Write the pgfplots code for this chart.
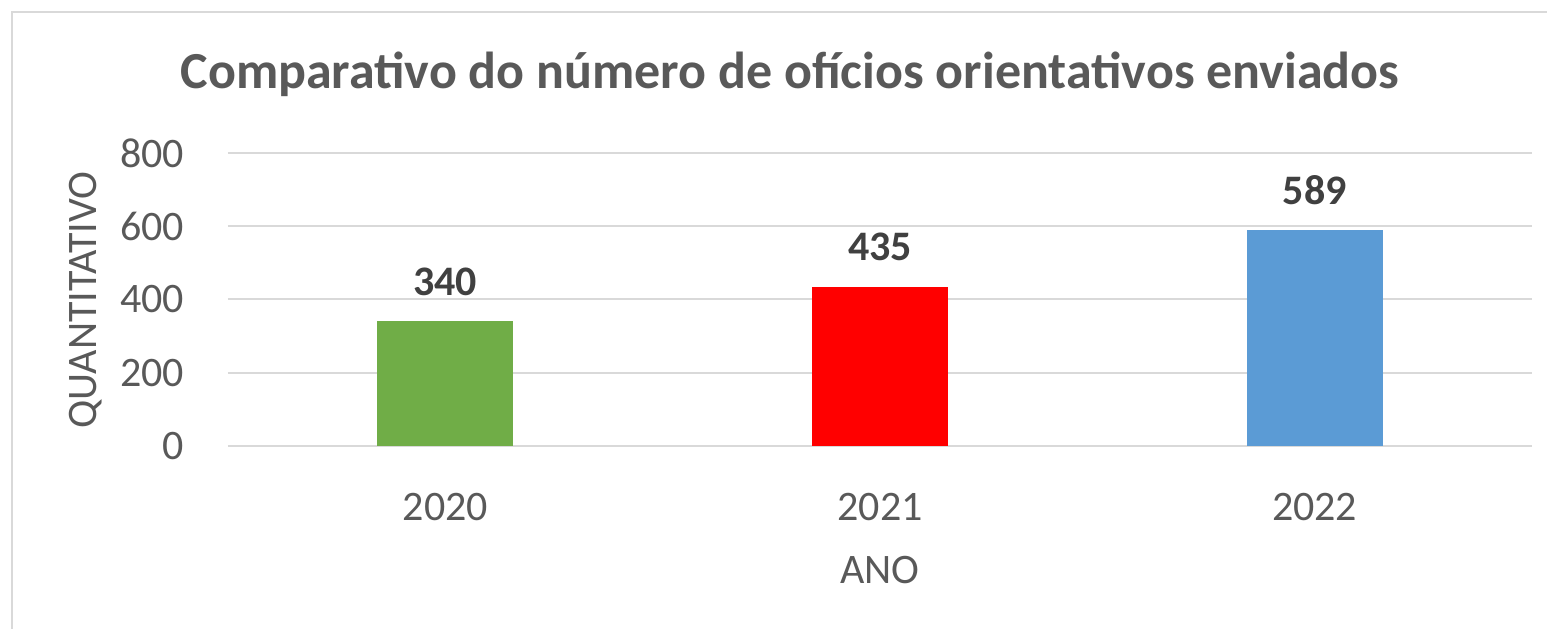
\documentclass[border=0pt]{standalone}
\usepackage{pgfplots}
\pgfplotsset{compat=1.18}
\usepackage{fontspec}
\setmainfont{Carlito}
\definecolor{cgreen}{HTML}{70AD47}
\definecolor{cred}{HTML}{FF0000}
\definecolor{cblue}{HTML}{5B9BD5}
\definecolor{cgrid}{HTML}{D9D9D9}
\definecolor{ctxt}{HTML}{595959}
\definecolor{clab}{HTML}{404040}
\begin{document}
\begin{tikzpicture}
\path[use as bounding box] (0pt,0pt) rectangle (386.75pt,-157.25pt);
\draw[cgrid, line width=0.6pt] (3pt,-157.25pt) -- (3pt,-3pt) -- (386.75pt,-3pt);
\begin{axis}[
  at={(57pt,-111.5pt)}, anchor=south west,
  scale only axis, width=326pt, height=73.25pt,
  xmin=-0.5, xmax=2.5, ymin=0, ymax=800,
  xtick={0,1,2}, xticklabels={2020,2021,2022},
  ytick={0,200,400,600,800},
  ymajorgrids, grid style={cgrid, line width=0.5pt},
  axis line style={draw=none}, tick style={draw=none},
  ticklabel style={font=\fontsize{10.5}{12}\selectfont, text=ctxt},
  yticklabel style={xshift=-7.5pt},
  xticklabel style={yshift=-4pt},
  /pgf/number format/assume math mode=true,
  ybar, bar width=34pt, bar shift=0pt,
  nodes near coords,
  every node near coord/.append style={font=\fontsize{10.5}{12}\selectfont\bfseries, text=clab, anchor=center, yshift=10pt},
  clip=false,
]
\addplot[fill=cgreen, draw=none] coordinates {(0,340)};
\addplot[fill=cred, draw=none] coordinates {(1,435)};
\addplot[fill=cblue, draw=none] coordinates {(2,589)};
\end{axis}
\node[font=\fontsize{13}{16}\selectfont\bfseries, text=ctxt] at (197.5pt,-18.5pt) {Comparativo do número de ofícios orientativos enviados};
\node[font=\fontsize{10.5}{12}\selectfont, text=ctxt, rotate=90] at (21.5pt,-75pt) {QUANTITATIVO};
\node[font=\fontsize{10.5}{12}\selectfont, text=ctxt] at (220pt,-142.5pt) {ANO};
\end{tikzpicture}
\end{document}
